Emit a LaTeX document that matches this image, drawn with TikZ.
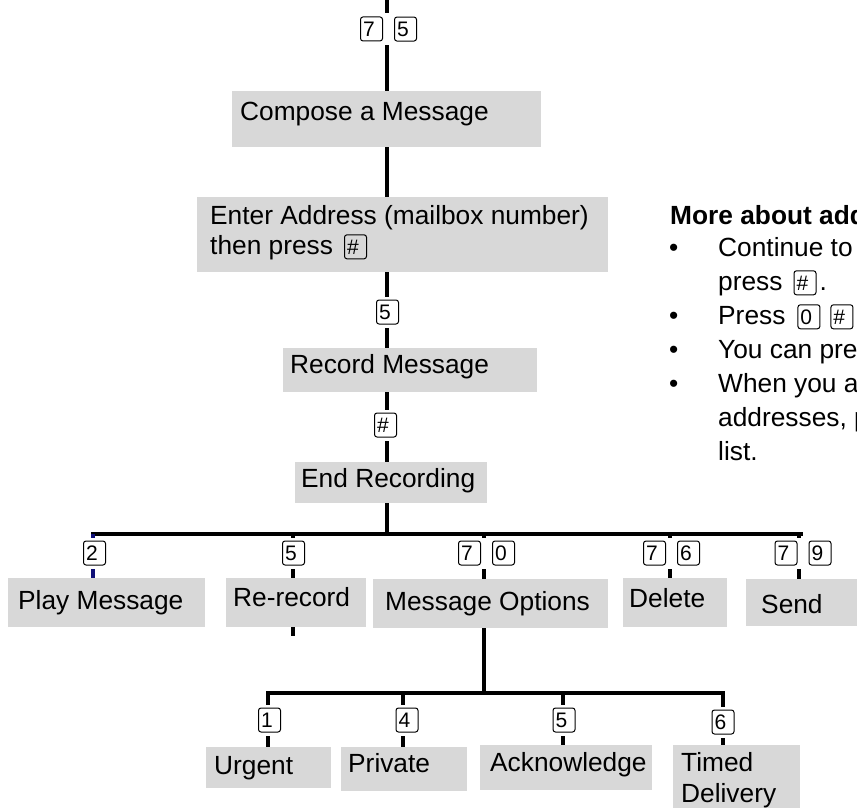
\documentclass[tikz,border=0pt]{standalone}
\usepackage{fontspec}
\setmainfont{Liberation Sans}
\usepackage{tikz}
\usepackage{xcolor}

\definecolor{menugray}{RGB}{216,216,216}
\definecolor{navyline}{RGB}{16,16,120}

\newcommand{\menufont}{\fontsize{26.3}{30}\selectfont}
\newcommand{\keyfont}{\fontsize{21}{23}\selectfont}
% klawisz telefonu (wstawiany w tekst)
\newcommand{\kc}[1]{\tikz[baseline=(kk.base)]\node[keycap] (kk) {#1};}

\begin{document}
\begin{tikzpicture}[
  x=1pt, y=-1pt,
  menubox/.style={fill=menugray, inner sep=0pt, outer sep=0pt, anchor=north west},
  txt/.style={anchor=base west, inner sep=0pt, font=\menufont},
  keycap/.style={draw=black, line width=1pt, rounded corners=2.5pt, minimum height=24pt,
                 text width=17pt, inner xsep=2.5pt, inner ysep=0pt, align=left, font=\keyfont},
  keylbl/.style={fill=white, inner xsep=0pt, inner ysep=3pt},
  wire/.style={line width=3.2pt},
  bar/.style={line width=3.2pt, line cap=rect}
]

% --- Obszar rysunku ---
\useasboundingbox (0,0) rectangle (857,808);
\clip (0,0) rectangle (857,808);

% --- Os glowna ---
\coordinate (axis) at (387,0);

% --- Skrzynki menu (glowna sciezka) ---
\node[menubox, minimum width=309pt, minimum height=56pt] (compose) at (232,91) {};
\node[menubox, minimum width=411pt, minimum height=75pt] (enter)   at (197,197) {};
\node[menubox, minimum width=254pt, minimum height=44pt] (record)  at (283,348) {};
\node[menubox, minimum width=192pt, minimum height=41pt] (endrec)  at (295,462) {};

\node[txt] (composeT) at (240,120) {Compose a Message};
\node[txt] (enterT1)  at (210,224) {Enter Address (mailbox number)};
\node[txt] (enterT2)  at (210,254) {then press\hspace{11pt}\kc{\#}};
\node[txt] (recordT)  at (290,373) {Record Message};
\node[txt] (endrecT)  at (301,487) {End Recording};

% --- Polaczenia glowne ---
\draw[wire] (axis) -- (compose.north -| axis);
\draw[wire] (compose.south -| axis) -- (enter.north -| axis);
\draw[wire] (enter.south -| axis) -- (record.north -| axis);
\draw[wire] (record.south -| axis) -- (endrec.north -| axis);

\node[keylbl] (k75)   at (388.5,29) {\kc{7}\hspace{11pt}\kc{5}};
\node[keylbl] (k5)    at (387.5,312) {\kc{5}};
\node[keylbl] (khash) at (385.5,425) {\kc{\#}};

% --- Poziom 1: opcje po nagraniu ---
\coordinate (brPlay)  at (93,534);
\coordinate (brRerec) at (293,534);
\coordinate (brOpt)   at (484,534);
\coordinate (brDel)   at (670,534);
\coordinate (brSend)  at (799,534);
\coordinate (barEnd)  at (801,534);

\node[menubox, minimum width=197pt, minimum height=49pt] (play)   at (8,578) {};
\node[menubox, minimum width=140pt, minimum height=49pt] (rerec)  at (226,578) {};
\node[menubox, minimum width=235pt, minimum height=49pt] (msgopt) at (373,579) {};
\node[menubox, minimum width=104pt, minimum height=49pt] (delete) at (623,578) {};
\node[menubox, minimum width=120pt, minimum height=47pt] (send)   at (746,579) {};

\node[txt] (playT)   at (18,609)  {Play Message};
\node[txt] (rerecT)  at (233,606) {Re-record};
\node[txt] (msgoptT) at (385,610) {Message Options};
\node[txt] (deleteT) at (629,607) {Delete};
\node[txt] (sendT)   at (761,613) {Send};

\draw[wire] (endrec.south -| axis) -- (axis |- brPlay);
\draw[bar] (brPlay) -- (barEnd);
\draw[wire, navyline] (brPlay) -- (play.north -| brPlay);
\draw[wire] (brRerec) -- (rerec.north -| brRerec);
\draw[wire] (rerec.south -| brRerec) -- ++(0,9);
\draw[wire] (brOpt) -- (msgopt.north -| brOpt);
\draw[wire] (brDel) -- (delete.north -| brDel);
\draw[wire] (brSend) -- (send.north -| brSend);

\node[keylbl] (kPlay)  at (94.5,553)  {\kc{2}};
\node[keylbl] (kRerec) at (293.5,553) {\kc{5}};
\node[keylbl] (kOpt)   at (486.5,553) {\kc{7}\hspace{11pt}\kc{0}};
\node[keylbl] (kDel)   at (671.5,553) {\kc{7}\hspace{11pt}\kc{6}};
\node[keylbl] (kSend)  at (803,553)   {\kc{7}\hspace{11pt}\kc{9}};

% --- Poziom 2: opcje wiadomosci ---
\coordinate (subOpt)  at (484,693);
\coordinate (subUrg)  at (268,693);
\coordinate (subPriv) at (403,693);
\coordinate (subAck)  at (563,693);
\coordinate (subTim)  at (723,693);

\node[menubox, minimum width=125pt, minimum height=41pt] (urgent)  at (206,747) {};
\node[menubox, minimum width=126pt, minimum height=44pt] (private) at (341,747) {};
\node[menubox, minimum width=172pt, minimum height=45pt] (ackn)    at (480,745) {};
\node[menubox, minimum width=127pt, minimum height=70pt] (timed)   at (673,745) {};

\node[txt] (urgentT)  at (214,774) {Urgent};
\node[txt] (privateT) at (348,772) {Private};
\node[txt] (acknT)    at (490,771) {Acknowledge};
\node[txt] (timedT1)  at (681,771) {Timed};
\node[txt] (timedT2)  at (681,802) {Delivery};

\draw[wire] (msgopt.south -| subOpt) -- (subOpt);
\draw[bar] (subUrg) -- (subTim);
\draw[wire] (subUrg) -- (urgent.north -| subUrg);
\draw[wire] (subPriv) -- (private.north -| subPriv);
\draw[wire] (subAck) -- (ackn.north -| subAck);
\draw[wire] (subTim) -- (timed.north -| subTim);

\node[keylbl] (kUrg)  at (269.5,720) {\kc{1}};
\node[keylbl] (kPriv) at (407,720)   {\kc{4}};
\node[keylbl] (kAck)  at (564,720)   {\kc{5}};
\node[keylbl] (kTim)  at (723,722)   {\kc{6}};

% --- Notatka o adresowaniu (obcieta prawa krawedzia) ---
\node[txt, font=\menufont\bfseries] (noteHead) at (670,224) {More about addressing};
\node[txt] (dot1)  at (669,256) {\textbullet};
\node[txt] (note1) at (718,256) {Continue to address};
\node[txt] (note1b) at (718,290) {press\hspace{11pt}\kc{\#}\hspace{3pt}.};
\node[txt] (dot2)  at (669,324) {\textbullet};
\node[txt] (note2) at (718,324) {Press\hspace{12pt}\kc{0}\hspace{10pt}\kc{\#}};
\node[txt] (dot3)  at (669,358) {\textbullet};
\node[txt] (note3) at (718,358) {You can press};
\node[txt] (dot4)  at (669,392) {\textbullet};
\node[txt] (note4) at (718,392) {When you are};
\node[txt] (note4b) at (718,426) {addresses, press};
\node[txt] (note4c) at (718,460) {list.};

\end{tikzpicture}
\end{document}
